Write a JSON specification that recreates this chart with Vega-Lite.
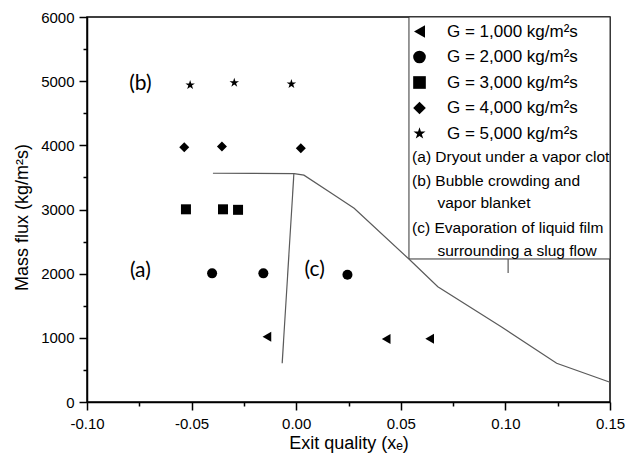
{
  "$schema": "https://vega.github.io/schema/vega-lite/v6.json",
  "width": 523,
  "height": 385,
  "autosize": {"type": "none"},
  "padding": {"left": 87, "top": 17, "right": 28, "bottom": 57},
  "background": "white",
  "config": {
    "view": {"stroke": "black", "strokeWidth": 1.5},
    "axis": {
      "domainColor": "black", "domainWidth": 1.5,
      "tickColor": "black", "tickWidth": 1.5,
      "labelFont": "Liberation Sans", "labelFontSize": 15, "labelColor": "black",
      "titleFont": "Liberation Sans", "titleFontSize": 18, "titleFontWeight": "normal", "titleColor": "black",
      "grid": false
    }
  },
  "datasets": {
    "points": [
      {"x": -0.014, "y": 1018, "G": "G = 1,000 kg/m²s"},
      {"x": 0.043, "y": 982, "G": "G = 1,000 kg/m²s"},
      {"x": 0.0638, "y": 986, "G": "G = 1,000 kg/m²s"},
      {"x": -0.0402, "y": 2005, "G": "G = 2,000 kg/m²s"},
      {"x": -0.0157, "y": 2005, "G": "G = 2,000 kg/m²s"},
      {"x": 0.0245, "y": 1984, "G": "G = 2,000 kg/m²s"},
      {"x": -0.0527, "y": 3003, "G": "G = 3,000 kg/m²s"},
      {"x": -0.035, "y": 3003, "G": "G = 3,000 kg/m²s"},
      {"x": -0.0278, "y": 2995, "G": "G = 3,000 kg/m²s"},
      {"x": -0.0535, "y": 3969, "G": "G = 4,000 kg/m²s"},
      {"x": -0.0355, "y": 3980, "G": "G = 4,000 kg/m²s"},
      {"x": 0.0022, "y": 3955, "G": "G = 4,000 kg/m²s"},
      {"x": -0.0507, "y": 4940, "G": "G = 5,000 kg/m²s"},
      {"x": -0.0296, "y": 4976, "G": "G = 5,000 kg/m²s"},
      {"x": -0.0023, "y": 4956, "G": "G = 5,000 kg/m²s"}
    ],
    "lines": [
      {"seg": "A", "order": 1, "x": -0.0398, "y": 3565},
      {"seg": "A", "order": 2, "x": -0.001, "y": 3560},
      {"seg": "A", "order": 3, "x": 0.0037, "y": 3535},
      {"seg": "A", "order": 4, "x": 0.0165, "y": 3260},
      {"seg": "A", "order": 5, "x": 0.0277, "y": 3019},
      {"seg": "A", "order": 6, "x": 0.054, "y": 2224},
      {"seg": "A", "order": 7, "x": 0.0677, "y": 1797},
      {"seg": "A", "order": 8, "x": 0.098, "y": 1173},
      {"seg": "A", "order": 9, "x": 0.1245, "y": 603},
      {"seg": "A", "order": 10, "x": 0.15, "y": 307},
      {"seg": "B", "order": 1, "x": -0.0011, "y": 3560},
      {"seg": "B", "order": 2, "x": -0.0067, "y": 603},
      {"seg": "C", "order": 1, "x": 0.1013, "y": 2229},
      {"seg": "C", "order": 2, "x": 0.1013, "y": 2010}
    ],
    "regions": [
      {"x": -0.0745, "y": 2046, "label": "(a)"},
      {"x": -0.0745, "y": 4955, "label": "(b)"},
      {"x": 0.0088, "y": 2057, "label": "(c)"}
    ],
    "notes": [
      {"x": 0.0554, "y": 3823, "text": "(a) Dryout under a vapor clot"},
      {"x": 0.0554, "y": 3449, "text": "(b) Bubble crowding and"},
      {"x": 0.0675, "y": 3097, "text": "vapor blanket"},
      {"x": 0.0554, "y": 2716, "text": "(c) Evaporation of liquid film"},
      {"x": 0.0675, "y": 2358, "text": "surrounding a slug flow"}
    ],
    "box": [
      {"x": 0.0539, "x2": 0.15, "y": 2229, "y2": 6000}
    ]
  },
  "encoding": {
    "x": {
      "field": "x", "type": "quantitative",
      "scale": {"domain": [-0.1, 0.15], "nice": false, "zero": false},
      "axis": {
        "title": "Exit quality (xₑ)",
        "values": [-0.1, -0.075, -0.05, -0.025, 0, 0.025, 0.05, 0.075, 0.1, 0.125, 0.15],
        "labelExpr": "abs(datum.value*20 - round(datum.value*20)) < 1e-6 ? replace(format(datum.value, '.2f'), '\u2212', '-') : ''",
        "tickSize": {"condition": {"test": "abs(datum.value*20 - round(datum.value*20)) < 1e-6", "value": 8}, "value": 4},
        "labelPadding": 6,
        "labelFlush": false,
        "labelOverlap": false,
        "titleY": 46,
        "titleBaseline": "alphabetic"
      }
    },
    "y": {
      "field": "y", "type": "quantitative",
      "scale": {"domain": [0, 6000], "nice": false, "zero": false},
      "axis": {
        "title": "Mass flux (kg/m²s)",
        "values": [0, 500, 1000, 1500, 2000, 2500, 3000, 3500, 4000, 4500, 5000, 5500, 6000],
        "labelExpr": "datum.value % 1000 == 0 ? format(datum.value, 'd') : ''",
        "tickSize": {"condition": {"test": "datum.value % 1000 == 0", "value": 8}, "value": 4},
        "labelPadding": 5,
        "labelFlush": false,
        "labelOverlap": false,
        "titleX": -65,
        "titleY": 200,
        "titleBaseline": "middle"
      }
    }
  },
  "layer": [
    {
      "data": {"name": "box"},
      "mark": {"type": "rect", "fill": "white", "stroke": "#333333", "strokeWidth": 1},
      "encoding": {
        "x2": {"field": "x2"},
        "y2": {"field": "y2"}
      }
    },
    {
      "data": {"name": "lines"},
      "mark": {"type": "line", "color": "#5a5a5a", "strokeWidth": 1.2},
      "encoding": {
        "detail": {"field": "seg"},
        "order": {"field": "order"}
      }
    },
    {
      "data": {"name": "regions"},
      "mark": {"type": "text", "font": "Lato", "fontSize": 21, "color": "black", "align": "center", "baseline": "middle"},
      "encoding": {
        "text": {"field": "label"}
      }
    },
    {
      "data": {"name": "notes"},
      "mark": {"type": "text", "font": "Liberation Sans", "fontSize": 15.5, "color": "black", "align": "left", "baseline": "middle"},
      "encoding": {
        "text": {"field": "text"}
      }
    },
    {
      "data": {"name": "points"},
      "mark": {"type": "point", "filled": true, "color": "black", "opacity": 1, "size": 100},
      "encoding": {
        "shape": {
          "field": "G", "type": "nominal",
          "scale": {
            "domain": ["G = 1,000 kg/m²s", "G = 2,000 kg/m²s", "G = 3,000 kg/m²s", "G = 4,000 kg/m²s", "G = 5,000 kg/m²s"],
            "range": ["triangle-left", "circle", "square", "diamond", "M0,-1L0.2245,-0.309L0.951,-0.309L0.363,0.118L0.588,0.809L0,0.382L-0.588,0.809L-0.363,0.118L-0.951,-0.309L-0.2245,-0.309Z"]
          },
          "legend": {
            "orient": "none",
            "legendX": 324,
            "legendY": 6,
            "title": null,
            "labelFont": "Liberation Sans",
            "labelFontSize": 17,
            "labelColor": "black",
            "symbolSize": 160,
            "symbolFillColor": "black",
            "symbolStrokeColor": "black",
            "labelOffset": 19,
            "rowPadding": 6.5,
            "padding": 0
          }
        }
      }
    }
  ]
}
